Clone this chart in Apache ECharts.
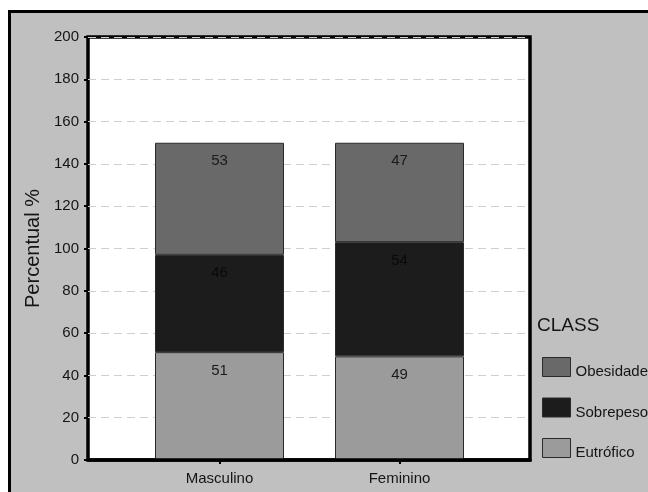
<!DOCTYPE html>
<html>
<head>
<meta charset="utf-8">
<style>
  html, body { margin: 0; padding: 0; background: #fff; }
  #chart { width: 648px; height: 492px; }
</style>
<script src="https://cdn.jsdelivr.net/npm/echarts@6/dist/echarts.min.js"></script>
</head>
<body>
<div id="chart"></div>
<script>
// Weight status by sex (stacked counts)
const categories = ['Masculino', 'Feminino'];
const eutrofico = [51, 49];
const sobrepeso = [46, 54];
const obesidade = [53, 47];
const seriesNames = ['Eutrófico', 'Sobrepeso', 'Obesidade'];
const yTicks = { min: 0, max: 200, step: 20 };

const FONT = '"Liberation Sans", Arial, sans-serif';
const chart = echarts.init(document.getElementById('chart'), null, { renderer: 'canvas' });

function barSeries(name, data, color, labelColor) {
  return {
    name: name,
    type: 'bar',
    stack: 'total',
    xAxisIndex: 1,
    yAxisIndex: 1,
    barWidth: 129,
    data: data,
    itemStyle: { color: color, borderColor: '#2a2a2a', borderWidth: 1 },
    label: {
      show: true,
      position: 'insideTop',
      distance: 11,
      color: labelColor,
      fontFamily: FONT,
      fontSize: 15
    }
  };
}

chart.setOption({
  animation: false,
  backgroundColor: '#ffffff',
  graphic: [
    {
      type: 'rect',
      z: -10,
      shape: { x: 9.5, y: 11.5, width: 700, height: 520 },
      style: { fill: '#c0c0c0', stroke: '#000', lineWidth: 3 }
    },
    {
      type: 'text',
      left: 537,
      top: 316,
      style: { text: 'CLASS', fill: '#151515', font: '19px ' + FONT }
    }
  ],
  grid: [
    {
      left: 88, top: 37, width: 442, height: 423,
      show: true, backgroundColor: '#ffffff', borderColor: '#000', borderWidth: 3.5
    },
    {
      left: 129.5, top: 37, width: 360, height: 423, show: false
    }
  ],
  legend: {
    orient: 'vertical',
    left: 537,
    top: 352,
    icon: 'rect',
    itemWidth: 28,
    itemHeight: 19,
    itemGap: 18,
    data: ['Obesidade', 'Sobrepeso', 'Eutrófico'],
    formatter: '{t|{name}}',
    textStyle: {
      color: '#151515', fontFamily: FONT, fontSize: 15,
      rich: { t: { color: '#151515', fontFamily: FONT, fontSize: 15, padding: [10, 0, 0, 0] } }
    },
    itemStyle: { borderColor: '#2a2a2a', borderWidth: 1 }
  },
  xAxis: [
    {
      gridIndex: 0, type: 'value', min: 0, max: 1,
      z: 5,
      axisLine: { show: true, lineStyle: { color: '#000', width: 3.5 } },
      axisTick: { show: false },
      axisLabel: { show: false },
      splitLine: { show: false }
    },
    {
      gridIndex: 1, type: 'category', data: categories,
      axisLine: { show: false },
      axisTick: { show: true, alignWithLabel: true, length: 4, lineStyle: { color: '#000', width: 2 } },
      axisLabel: { color: '#151515', fontFamily: FONT, fontSize: 15, margin: 11 }
    }
  ],
  yAxis: [
    {
      gridIndex: 0, type: 'value',
      min: yTicks.min, max: yTicks.max, interval: yTicks.step,
      name: 'Percentual %',
      nameLocation: 'middle',
      nameGap: 44,
      nameTextStyle: { color: '#151515', fontFamily: FONT, fontSize: 20 },
      axisLine: { show: false },
      axisTick: { show: true, length: 4, lineStyle: { color: '#000', width: 2 } },
      axisLabel: { color: '#151515', fontFamily: FONT, fontSize: 15, margin: 9 },
      splitLine: { show: true, lineStyle: { color: '#cfcfcf', type: [8, 5], width: 1 } }
    },
    {
      gridIndex: 1, type: 'value',
      min: yTicks.min, max: yTicks.max, interval: yTicks.step,
      show: false,
      splitLine: { show: false }
    }
  ],
  series: [
    barSeries(seriesNames[0], eutrofico, '#9b9b9b', '#1a1a1a'),
    barSeries(seriesNames[1], sobrepeso, '#1c1c1c', '#0a0a0a'),
    barSeries(seriesNames[2], obesidade, '#696969', '#1a1a1a')
  ]
});
</script>
</body>
</html>
